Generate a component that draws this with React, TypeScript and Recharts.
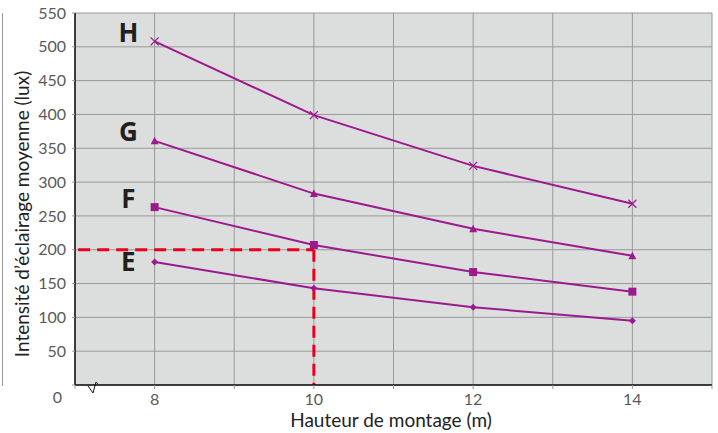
import React from 'react';
import { LineChart, Line, XAxis, YAxis, CartesianGrid, ReferenceLine, ReferenceDot, Customized } from 'recharts';

const heights = [8, 10, 12, 14];
const seriesH = [508, 399, 324, 268];
const seriesG = [361, 283, 231, 191];
const seriesF = [263, 207, 167, 138];
const seriesE = [182, 143, 115, 95];
const xTicks = [7, 8, 9, 10, 11, 12, 13, 14, 15];
const xLabelled = [8, 10, 12, 14];
const yTicks = [0, 50, 100, 150, 200, 250, 300, 350, 400, 450, 500, 550];
const seriesLabels = [
  { name: 'H', x: 7.67, y: 521 },
  { name: 'G', x: 7.67, y: 374 },
  { name: 'F', x: 7.67, y: 276 },
  { name: 'E', x: 7.67, y: 182 },
];
const xTitle = 'Hauteur de montage (m)';
const yTitle = 'Intensité d’éclairage moyenne (lux)';
const readX = 10;
const readY = 200;
const readStartX = 7.04;

const data = heights.map((h, i) => ({ h, H: seriesH[i], G: seriesG[i], F: seriesF[i], E: seriesE[i] }));

const PURPLE = '#9c1a8e';
const RED = '#e8001c';
const FONT = 'Lato, "Open Sans", sans-serif';

const Cross = (p: any) => {
  const { cx, cy } = p;
  if (cx == null) return null;
  return (
    <g key={`h${cx}`}>
      <line x1={cx - 4} y1={cy - 4} x2={cx + 4} y2={cy + 4} stroke={PURPLE} strokeWidth={1.2} />
      <line x1={cx - 4} y1={cy + 4} x2={cx + 4} y2={cy - 4} stroke={PURPLE} strokeWidth={1.2} />
    </g>
  );
};
const Tri = (p: any) => {
  const { cx, cy } = p;
  if (cx == null) return null;
  return <path key={`g${cx}`} d={`M${cx - 4},${cy + 3.5} L${cx + 4},${cy + 3.5} L${cx},${cy - 4} Z`} fill={PURPLE} />;
};
const Sq = (p: any) => {
  const { cx, cy } = p;
  if (cx == null) return null;
  return <rect key={`f${cx}`} x={cx - 4} y={cy - 4} width={8} height={8} fill={PURPLE} />;
};
const Dia = (p: any) => {
  const { cx, cy } = p;
  if (cx == null) return null;
  return <path key={`e${cx}`} d={`M${cx},${cy - 3.5} L${cx + 3.5},${cy} L${cx},${cy + 3.5} L${cx - 3.5},${cy} Z`} fill={PURPLE} />;
};

const YTick = (p: any) => {
  const { x, y, payload } = p;
  const v = payload.value;
  return (
    <text x={v === 0 ? x - 4 : x} y={v === 0 ? y + 12 : y} dy="0.35em" textAnchor="end" fill="#5a5a5a" fontSize={16} fontFamily={FONT}>
      {v}
    </text>
  );
};
const XTick = (p: any) => {
  const { x, y, payload } = p;
  const v = payload.value;
  if (!xLabelled.includes(v)) return null;
  return (
    <text x={x} y={y} dy="0.85em" textAnchor="middle" fill="#5a5a5a" fontSize={16} fontFamily={FONT}>
      {v}
    </text>
  );
};

const Extras = () => (
  <g>
    <path d="M88,386 L93,393 L96,382 L98,384" fill="none" stroke="#111" strokeWidth={1} />
    <text x={391} y={427} textAnchor="middle" fill="#222" fontSize={19} fontFamily={FONT}>
      {xTitle}
    </text>
    <text transform="translate(29,214) rotate(-90)" textAnchor="middle" fill="#222" fontSize={19} fontFamily={FONT}>
      {yTitle}
    </text>
  </g>
);

const letterShape = (name: string) => (p: any) => (
  <text x={p.cx} y={p.cy} dy="0.36em" textAnchor="middle" fontSize={26} fontWeight={700} fill="#231f20" fontFamily={'"Open Sans", sans-serif'}>
    {name}
  </text>
);

export default function App() {
  return (
    <div style={{ position: 'absolute', left: 0, top: 0, width: 718, height: 433, background: '#fff' }}>
      <div style={{ position: 'absolute', left: 2, top: 13, width: 1, height: 373, background: '#999' }} />
      <LineChart width={718} height={433} data={data} margin={{ top: 13, right: 6, left: 0, bottom: 0 }}>
        <CartesianGrid fill="#dcdddd" stroke="#999" strokeWidth={1} />
        <XAxis
          dataKey="h"
          type="number"
          domain={[7, 15]}
          ticks={xTicks}
          interval={0}
          height={48}
          tick={<XTick />}
          tickSize={4}
          tickLine={{ stroke: '#999' }}
          axisLine={{ stroke: '#111', strokeWidth: 1.5 }}
        />
        <YAxis
          type="number"
          domain={[0, 550]}
          ticks={yTicks}
          interval={0}
          width={75}
          tick={<YTick />}
          tickSize={3}
          tickMargin={6}
          tickLine={{ stroke: '#999' }}
          axisLine={{ stroke: '#111', strokeWidth: 1.5 }}
        />
        <ReferenceLine segment={[{ x: readStartX, y: readY }, { x: readX, y: readY }]} stroke={RED} strokeWidth={3} strokeDasharray="12 7" />
        <ReferenceLine segment={[{ x: readX, y: readY }, { x: readX, y: 0 }]} stroke={RED} strokeWidth={3} strokeDasharray="12 7" />
        <Line dataKey="H" stroke={PURPLE} strokeWidth={2} dot={Cross} activeDot={false} isAnimationActive={false} />
        <Line dataKey="G" stroke={PURPLE} strokeWidth={2} dot={Tri} activeDot={false} isAnimationActive={false} />
        <Line dataKey="F" stroke={PURPLE} strokeWidth={2} dot={Sq} activeDot={false} isAnimationActive={false} />
        <Line dataKey="E" stroke={PURPLE} strokeWidth={2} dot={Dia} activeDot={false} isAnimationActive={false} />
        {seriesLabels.map((l) => (
          <ReferenceDot key={l.name} x={l.x} y={l.y} r={0} shape={letterShape(l.name)} />
        ))}
        <Customized component={Extras} />
      </LineChart>
    </div>
  );
}
